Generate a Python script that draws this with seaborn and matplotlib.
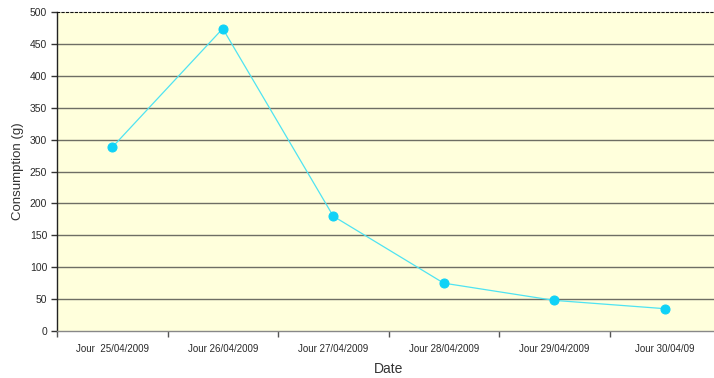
import matplotlib
matplotlib.use("Agg")
import matplotlib.pyplot as plt
import seaborn as sns
import pandas as pd
from matplotlib.ticker import MultipleLocator, FixedLocator

# Daily consumption values
dates = ["Jour  25/04/2009", "Jour 26/04/2009", "Jour 27/04/2009",
         "Jour 28/04/2009", "Jour 29/04/2009", "Jour 30/04/09"]
consumption = [288, 474, 180, 75, 48, 35]

df = pd.DataFrame({"Date": dates, "Consumption": consumption})
df["pos"] = range(len(dates))

sns.set_style("white")
plt.rcParams["font.family"] = ["Liberation Sans", "DejaVu Sans"]

fig = plt.figure(figsize=(7.14, 3.78), dpi=100)
ax = fig.add_axes([57 / 714, 1 - 331 / 378, 663 / 714, 319 / 378])
ax.set_facecolor("#ffffdc")

# horizontal grid lines
for yv in range(50, 500, 50):
    ax.axhline(yv, color="#6e6e64", lw=1.0, zorder=1)

sns.lineplot(data=df, x="pos", y="Consumption", ax=ax, color="#4fe3f2",
             lw=0.9, marker="o", markersize=6.5, markerfacecolor="#0fd2f7",
             markeredgecolor="#0fd2f7", zorder=3)

ax.set_xlim(-0.5, len(dates) - 0.5)
ax.set_ylim(0, 500)
ax.yaxis.set_major_locator(MultipleLocator(50))
ax.set_xticks(df["pos"])
ax.set_xticklabels(dates, fontsize=7, color="#2a2a2a")
ax.xaxis.set_minor_locator(FixedLocator([i - 0.5 for i in range(len(dates) + 1)]))
ax.tick_params(axis="x", which="major", length=0, pad=9)
ax.tick_params(axis="x", which="minor", length=4, width=1, color="#555555", direction="out")
ax.tick_params(axis="y", length=4, width=1, color="#333333", direction="out",
               labelsize=7.5, labelcolor="#2a2a2a", pad=3)
ax.tick_params(bottom=True, left=True, which="both")

ax.spines["right"].set_visible(False)
ax.spines["left"].set_color("#222222")
ax.spines["left"].set_linewidth(1)
ax.spines["bottom"].set_color("#888888")
ax.spines["bottom"].set_linewidth(1)
ax.spines["top"].set_color("#111111")
ax.spines["top"].set_linewidth(0.8)
ax.spines["top"].set_linestyle((0, (2, 2)))

ax.set_xlabel("Date", fontsize=10, color="#333333", labelpad=6)
ax.set_ylabel("Consumption (g)", fontsize=9.5, color="#333333", labelpad=4)

fig.savefig("out.png", dpi=100)
